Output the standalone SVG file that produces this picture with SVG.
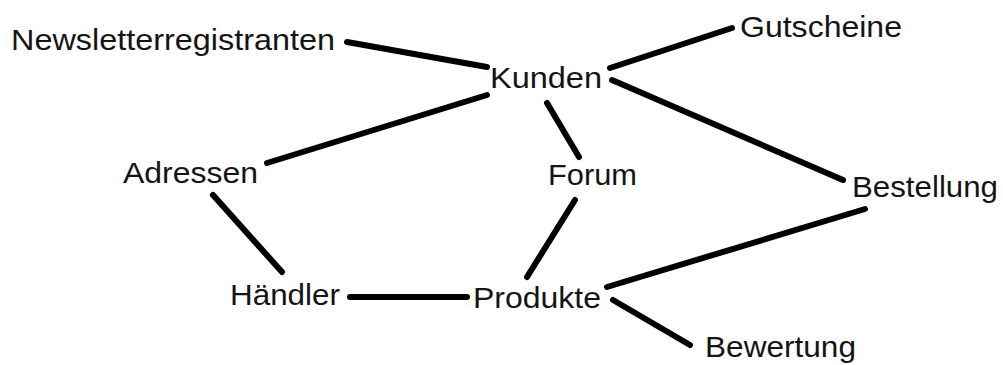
<svg xmlns="http://www.w3.org/2000/svg" width="1003" height="365" viewBox="0 0 1003 365">
<style>
.n text{font-family:"Liberation Sans",Arial,sans-serif;font-size:30px;fill:#141414}
.e line{stroke:#000;stroke-width:6;stroke-linecap:round}
</style>
<rect width="1003" height="365" fill="#fff"/>
<g id="connectors" class="e">
<line x1="347" y1="42" x2="487" y2="67"/>
<line x1="610" y1="68" x2="732" y2="28"/>
<line x1="487" y1="95" x2="267" y2="163"/>
<line x1="547" y1="103" x2="579" y2="157"/>
<line x1="612" y1="80" x2="843" y2="180"/>
<line x1="213" y1="195" x2="282" y2="272"/>
<line x1="575" y1="200" x2="527" y2="277"/>
<line x1="865" y1="209" x2="607" y2="287"/>
<line x1="350" y1="297" x2="467" y2="297"/>
<line x1="613" y1="300" x2="690" y2="345"/>
</g>
<g id="newsletterregistranten" class="n"><text x="11" y="50" textLength="324" lengthAdjust="spacingAndGlyphs">Newsletterregistranten</text></g>
<g id="kunden" class="n"><text x="490" y="88" textLength="112" lengthAdjust="spacingAndGlyphs">Kunden</text></g>
<g id="gutscheine" class="n"><text x="740" y="37" textLength="162" lengthAdjust="spacingAndGlyphs">Gutscheine</text></g>
<g id="adressen" class="n"><text x="123" y="183" textLength="135" lengthAdjust="spacingAndGlyphs">Adressen</text></g>
<g id="forum" class="n"><text x="548" y="185" textLength="89" lengthAdjust="spacingAndGlyphs">Forum</text></g>
<g id="bestellung" class="n"><text x="852" y="197" textLength="146" lengthAdjust="spacingAndGlyphs">Bestellung</text></g>
<g id="haendler" class="n"><text x="230" y="305" textLength="110" lengthAdjust="spacingAndGlyphs">Händler</text></g>
<g id="produkte" class="n"><text x="473" y="308" textLength="128" lengthAdjust="spacingAndGlyphs">Produkte</text></g>
<g id="bewertung" class="n"><text x="705" y="357" textLength="151" lengthAdjust="spacingAndGlyphs">Bewertung</text></g>
</svg>
